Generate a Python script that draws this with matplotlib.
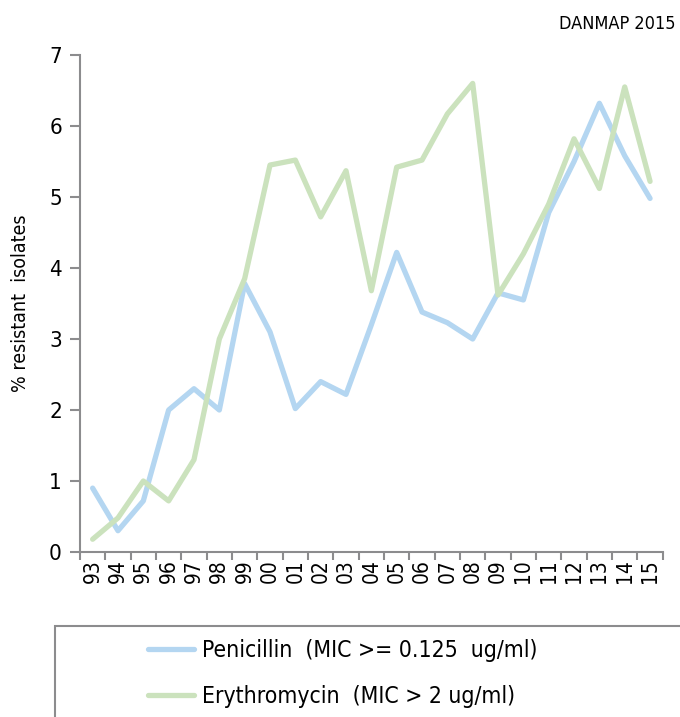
import matplotlib.pyplot as plt
from matplotlib.patches import Rectangle
import numpy as np

years = ['93', '94', '95', '96', '97', '98', '99', '00', '01', '02', '03', '04',
         '05', '06', '07', '08', '09', '10', '11', '12', '13', '14', '15']
penicillin = [0.9, 0.3, 0.72, 2.0, 2.3, 2.0, 3.78, 3.1, 2.02, 2.4, 2.22, 3.2,
              4.22, 3.38, 3.23, 3.0, 3.65, 3.55, 4.78, 5.5, 6.32, 5.58, 4.98]
erythromycin = [0.18, 0.48, 1.0, 0.72, 1.3, 3.0, 3.85, 5.45, 5.52, 4.72, 5.37, 3.68,
                5.42, 5.52, 6.17, 6.6, 3.62, 4.2, 4.9, 5.82, 5.12, 6.55, 5.22]

blue = '#b4d6f1'
green = '#cbe2bd'
grey = '#8c8c8e'

plt.rcParams['font.family'] = ['DejaVu Sans']
plt.rcParams['font.stretch'] = 'condensed'

fig = plt.figure(figsize=(6.8, 7.17), dpi=100)
ax = fig.add_axes([0.1176, 0.2301, 0.857, 0.6932])

x = np.arange(len(years))
ax.plot(x, penicillin, color=blue, lw=3.8, solid_joinstyle='round', solid_capstyle='round',
        label='Penicillin  (MIC >= 0.125  ug/ml)')
ax.plot(x, erythromycin, color=green, lw=3.8, solid_joinstyle='round', solid_capstyle='round',
        label='Erythromycin  (MIC > 2 ug/ml)')

ax.set_xlim(-0.5, len(years) - 0.5)
ax.set_ylim(0, 7)
ax.set_yticks(range(8))
ax.set_xticks(x)
ax.set_xticklabels(years, rotation=90, fontsize=15)
ax.set_xticks(np.arange(len(years) + 1) - 0.5, minor=True)
ax.tick_params(axis='x', which='major', length=0, pad=5)
ax.tick_params(axis='x', which='minor', length=6, color=grey, width=1.5)
ax.tick_params(axis='y', length=7, color=grey, width=1.5, labelsize=16, pad=6)

for s in ['top', 'right']:
    ax.spines[s].set_visible(False)
for s in ['left', 'bottom']:
    ax.spines[s].set_color(grey)
    ax.spines[s].set_linewidth(1.5)

ax.set_ylabel('% resistant  isolates', fontsize=14, labelpad=14)
fig.text(0.994, 0.967, 'DANMAP 2015', ha='right', va='center', fontsize=13)

# legend box
fig.patches.append(Rectangle((0.081, -0.1), 1.0, 0.227, transform=fig.transFigure,
                             fill=False, edgecolor=grey, lw=1.5))
fig.legend(loc='center left', bbox_to_anchor=(0.188, 0.061), frameon=False,
           fontsize=16.5, handlelength=2.0, labelspacing=1.0, handletextpad=0.35)

plt.savefig('out.png')
